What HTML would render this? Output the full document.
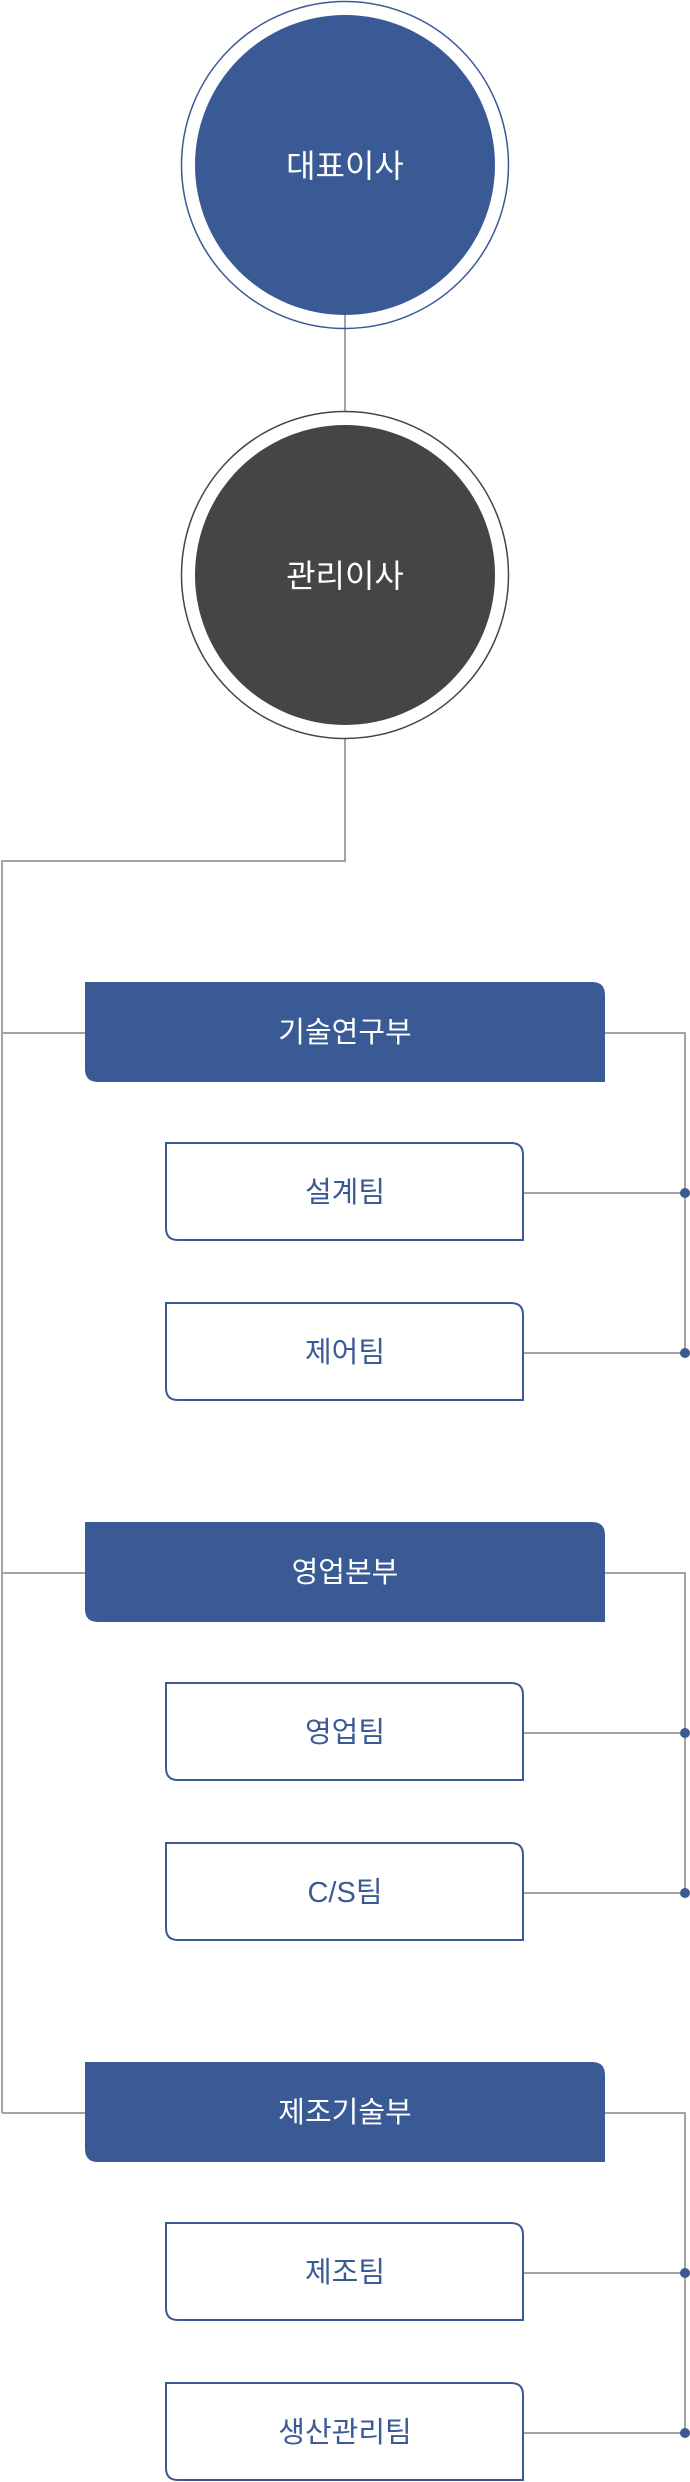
<!DOCTYPE html>
<html><head><meta charset="utf-8"><style>
html,body{margin:0;padding:0;background:#fff;}
svg{display:block;}
text{font-family:"Liberation Sans","Noto Sans CJK KR",sans-serif;text-anchor:middle;dominant-baseline:central;}
</style></head><body>
<svg width="690" height="2482" viewBox="0 0 690 2482" xmlns="http://www.w3.org/2000/svg">
<g fill="none" stroke="#a3a3a3" stroke-width="2">
<line x1="345" y1="252" x2="345" y2="411"/>
<polyline points="345,739 345,861 2,861 2,2113"/>
<line x1="2" y1="1033" x2="85" y2="1033"/>
<line x1="2" y1="1573" x2="85" y2="1573"/>
<line x1="2" y1="2113" x2="85" y2="2113"/>
<polyline points="605,1033 685,1033 685,1353"/>
<polyline points="605,1573 685,1573 685,1893"/>
<polyline points="605,2113 685,2113 685,2433"/>
<line x1="524" y1="1193" x2="685" y2="1193"/>
<line x1="524" y1="1353" x2="685" y2="1353"/>
<line x1="524" y1="1733" x2="685" y2="1733"/>
<line x1="524" y1="1893" x2="685" y2="1893"/>
<line x1="524" y1="2273" x2="685" y2="2273"/>
<line x1="524" y1="2433" x2="685" y2="2433"/>
</g>
<g fill="#3a5a95">
<circle cx="685" cy="1193" r="5"/><circle cx="685" cy="1353" r="5"/>
<circle cx="685" cy="1733" r="5"/><circle cx="685" cy="1893" r="5"/>
<circle cx="685" cy="2273" r="5"/><circle cx="685" cy="2433" r="5"/>
</g>
<circle cx="345" cy="165" r="163.5" fill="none" stroke="#3a5a95" stroke-width="1.5"/>
<circle cx="345" cy="165" r="150" fill="#3a5a95"/>
<text x="345" y="166" fill="#fff" font-size="32">대표이사</text>
<circle cx="345" cy="575" r="163.5" fill="none" stroke="#444" stroke-width="1.5"/>
<circle cx="345" cy="575" r="150" fill="#454545"/>
<text x="345" y="576" fill="#fff" font-size="32">관리이사</text>

<g fill="#3a5a95">
<path d="M85,982 H592 Q605,982 605,995 V1082 H98 Q85,1082 85,1069 Z"/>
<path d="M85,1522 H592 Q605,1522 605,1535 V1622 H98 Q85,1622 85,1609 Z"/>
<path d="M85,2062 H592 Q605,2062 605,2075 V2162 H98 Q85,2162 85,2149 Z"/>
</g>
<g fill="#fff" font-size="29">
<text x="345" y="1033">기술연구부</text>
<text x="345" y="1573">영업본부</text>
<text x="345" y="2113">제조기술부</text>
</g>
<g fill="#fff" stroke="#3a5a95" stroke-width="2">
<path d="M166,1143 H511 Q523,1143 523,1155 V1240 H178 Q166,1240 166,1228 Z"/>
<path d="M166,1303 H511 Q523,1303 523,1315 V1400 H178 Q166,1400 166,1388 Z"/>
<path d="M166,1683 H511 Q523,1683 523,1695 V1780 H178 Q166,1780 166,1768 Z"/>
<path d="M166,1843 H511 Q523,1843 523,1855 V1940 H178 Q166,1940 166,1928 Z"/>
<path d="M166,2223 H511 Q523,2223 523,2235 V2320 H178 Q166,2320 166,2308 Z"/>
<path d="M166,2383 H511 Q523,2383 523,2395 V2480 H178 Q166,2480 166,2468 Z"/>
</g>
<g fill="#3a5a95" font-size="29">
<text x="345" y="1193">설계팀</text>
<text x="345" y="1353">제어팀</text>
<text x="345" y="1733">영업팀</text>
<text x="345" y="1893">C/S팀</text>
<text x="345" y="2273">제조팀</text>
<text x="345" y="2433">생산관리팀</text>
</g>
</svg>
</body></html>
